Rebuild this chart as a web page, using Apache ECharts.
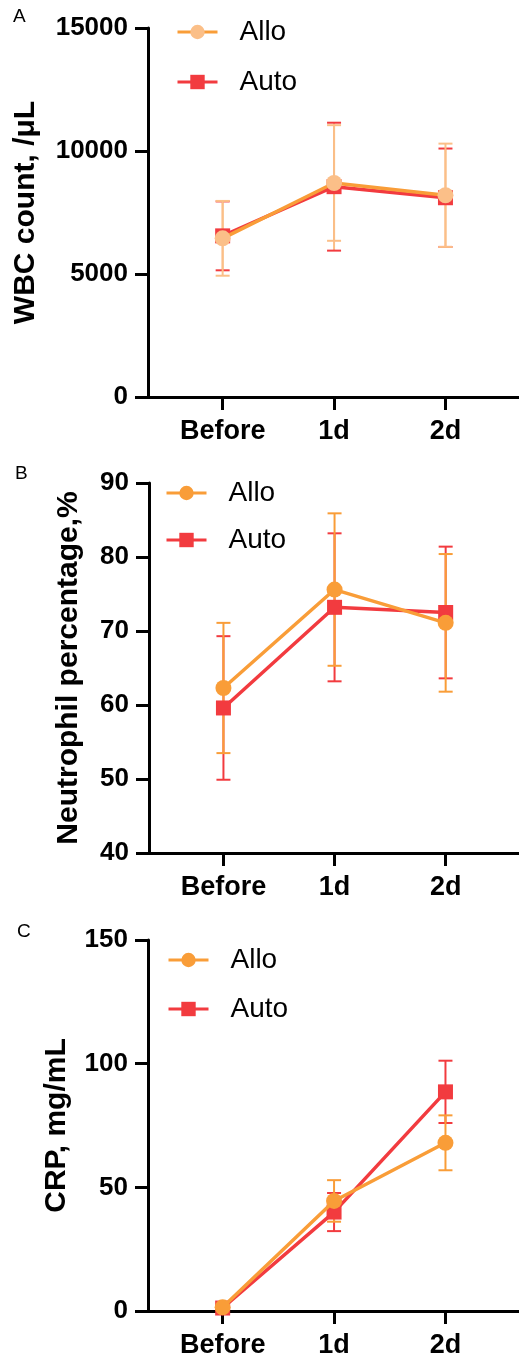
<!DOCTYPE html>
<html>
<head>
<meta charset="utf-8">
<script src="https://cdn.jsdelivr.net/npm/echarts@6/dist/echarts.min.js"></script>
<style>
body{margin:0;background:#fff}
#a,#b{width:519px;height:450px}
#c{width:519px;height:460px}
</style>
</head>
<body>
<div id="a"></div><div id="b"></div><div id="c"></div>
<script>
var days = ['Before', '1d', '2d'];
var dayPos = [0, 1, 2];

// A: WBC count
var wbcAlloMean = [6450, 8700, 8200];
var wbcAlloSd = [1520, 2350, 2100];
var wbcAutoMean = [6550, 8550, 8100];
var wbcAutoSd = [1400, 2600, 2000];

// B: neutrophil %
var neuAlloMean = [62.3, 75.6, 71.1];
var neuAlloSd = [8.8, 10.3, 9.3];
var neuAutoMean = [59.6, 73.2, 72.5];
var neuAutoSd = [9.7, 10.0, 8.9];

// C: CRP
var crpAlloMean = [1.5, 44.5, 68.0];
var crpAlloSd = [0.5, 8.4, 11.1];
var crpAutoMean = [1.2, 40.0, 88.6];
var crpAutoSd = [0.5, 7.7, 12.6];

var FONT = 'Liberation Sans, Arial, sans-serif';
var peach = '#FBBF88', orange = '#F99D38', red = '#F23B3F';

function errBars(mean, sd, stem, cap) {
  return {
    type: 'custom', z: 1, silent: true,
    data: mean.map(function (m, i) { return [dayPos[i], m - sd[i], m + sd[i]]; }),
    encode: {x: 0, y: [1, 2]},
    renderItem: function (params, api) {
      var lo = api.coord([api.value(0), api.value(1)]);
      var hi = api.coord([api.value(0), api.value(2)]);
      var w = 7;
      return {type: 'group', children: [
        {type: 'line', shape: {x1: lo[0], y1: lo[1], x2: hi[0], y2: hi[1]}, style: {stroke: stem, lineWidth: 2}},
        {type: 'line', shape: {x1: hi[0] - w, y1: hi[1], x2: hi[0] + w, y2: hi[1]}, style: {stroke: cap, lineWidth: 2}},
        {type: 'line', shape: {x1: lo[0] - w, y1: lo[1], x2: lo[0] + w, y2: lo[1]}, style: {stroke: cap, lineWidth: 2}}
      ]};
    }
  };
}

function lineS(name, mean, lineColor, dotColor, symbol, size, z) {
  return {
    type: 'line', name: name, z: z,
    data: mean.map(function (m, i) { return [dayPos[i], m]; }),
    symbol: symbol, symbolSize: size,
    lineStyle: {color: lineColor, width: 3.5},
    itemStyle: {color: dotColor, opacity: 1}
  };
}

function makeOption(p) {
  return {
    animation: false,
    textStyle: {fontFamily: FONT},
    graphic: [{type: 'text', left: p.letterX, top: p.letterY,
      style: {text: p.letter, font: '19px ' + FONT, fill: '#000'}}],
    legend: {
      orient: 'vertical', left: p.legLeft, top: p.legTop, padding: 0,
      itemWidth: 40, itemHeight: 18, itemGap: p.legGap,
      lineStyle: {width: 3},
      textStyle: {fontSize: 28, lineHeight: 30, color: '#000', padding: [0, 0, 0, 17]},
      data: ['Allo', 'Auto']
    },
    grid: {left: p.left, right: 0, top: p.top, bottom: p.bottom, outerBoundsMode: 'none'},
    xAxis: {
      type: 'value', min: -0.67, max: 2.66,
      splitLine: {show: false},
      axisLine: {onZero: false, lineStyle: {color: '#000', width: 3}},
      axisTick: {customValues: dayPos, length: 13, lineStyle: {color: '#000', width: 3}},
      axisLabel: {customValues: dayPos, margin: 21, fontSize: 27, fontWeight: 'bold', color: '#000',
        formatter: function (v) { return days[Math.round(v)]; }}
    },
    yAxis: {
      type: 'value', min: p.min, max: p.max, interval: p.step,
      name: p.name, nameLocation: 'middle', nameGap: p.nameGap,
      nameTextStyle: {fontSize: 30, fontWeight: 'bold', color: '#000'},
      splitLine: {show: false},
      axisLine: {show: true, onZero: false, lineStyle: {color: '#000', width: 3}},
      axisTick: {show: true, length: 13, lineStyle: {color: '#000', width: 3}},
      axisLabel: {margin: 20, fontSize: 26, fontWeight: 'bold', color: '#000',
        formatter: function (v) { return String(v); }}
    },
    series: p.series
  };
}

var chartA = echarts.init(document.getElementById('a'));
chartA.setOption(makeOption({
  letter: 'A', letterX: 13, letterY: 7,
  legLeft: 176, legTop: 17, legGap: 20,
  left: 148, top: 28, bottom: 53,
  min: 0, max: 15000, step: 5000, name: 'WBC count, /μL', nameGap: 107,
  series: [
    errBars(wbcAutoMean, wbcAutoSd, peach, red),
    errBars(wbcAlloMean, wbcAlloSd, peach, peach),
    lineS('Auto', wbcAutoMean, red, red, 'rect', 15, 2),
    lineS('Allo', wbcAlloMean, orange, peach, 'circle', 16, 3)
  ]
}));

var chartB = echarts.init(document.getElementById('b'));
chartB.setOption(makeOption({
  letter: 'B', letterX: 15, letterY: 14,
  legLeft: 165, legTop: 28, legGap: 17,
  left: 149, top: 33, bottom: 47,
  min: 40, max: 90, step: 10, name: 'Neutrophil percentage,%', nameGap: 65,
  series: [
    errBars(neuAutoMean, neuAutoSd, red, red),
    errBars(neuAlloMean, neuAlloSd, orange, orange),
    lineS('Auto', neuAutoMean, red, red, 'rect', 15, 2),
    lineS('Allo', neuAlloMean, orange, orange, 'circle', 16, 3)
  ]
}));

var chartC = echarts.init(document.getElementById('c'));
chartC.setOption(makeOption({
  letter: 'C', letterX: 17, letterY: 22,
  legLeft: 167, legTop: 45, legGap: 19,
  left: 148, top: 40, bottom: 49,
  min: 0, max: 150, step: 50, name: 'CRP, mg/mL', nameGap: 76,
  series: [
    errBars(crpAutoMean, crpAutoSd, red, red),
    errBars(crpAlloMean, crpAlloSd, orange, orange),
    lineS('Auto', crpAutoMean, red, red, 'rect', 15, 2),
    lineS('Allo', crpAlloMean, orange, orange, 'circle', 16, 3)
  ]
}));
</script>
</body>
</html>
